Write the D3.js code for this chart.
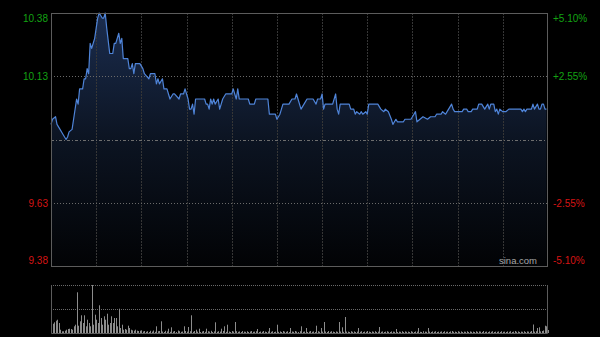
<!DOCTYPE html>
<html>
<head>
<meta charset="utf-8">
<script src="https://cdn.jsdelivr.net/npm/d3@7"></script>
<style>
  html, body { margin: 0; padding: 0; background: #000; }
  svg { display: block; }
  text { font-family: Arial, 'Liberation Sans', sans-serif; }
</style>
</head>
<body>
<svg id="chart"></svg>
<script>
// Intraday minute data (HK session: 09:30-12:00, 13:00-16:00 -> 330 trading minutes)
const prevClose = 9.88;
const priceTicks = [10.38, 10.13, 9.63, 9.38];
const pctTicks = [5.10, 2.55, -2.55, -5.10];

// minute index of each turning point of the price line, and its price
const minutes = [
  0, 1, 3, 4, 6, 8, 10, 11, 12, 14, 15, 17, 18, 19, 21, 22, 23, 24, 25, 26,
  27, 28, 29, 30, 31, 32, 34, 35, 36, 37, 39, 41, 42, 43, 45, 46, 47, 48, 51, 52,
  53, 54, 55, 56, 59, 61, 62, 65, 66, 69, 70, 71, 72, 74, 75, 77, 78, 79, 81, 82,
  85, 86, 88, 89, 91, 92, 93, 94, 95, 96, 102, 103, 104, 105, 106, 107, 108, 109, 111, 112,
  114, 116, 120, 121, 122, 123, 124, 125, 131, 132, 135, 136, 144, 145, 149, 150, 152, 154, 158, 160,
  162, 163, 164, 166, 168, 170, 174, 176, 177, 179, 180, 181, 182, 187, 189, 190, 191, 192, 198, 199,
  201, 202, 203, 205, 206, 207, 209, 210, 211, 217, 219, 221, 222, 224, 226, 227, 229, 230, 234, 235,
  239, 241, 242, 243, 245, 247, 250, 252, 255, 256, 259, 260, 262, 263, 266, 267, 268, 273, 274, 276,
  277, 279, 280, 283, 284, 286, 288, 290, 291, 292, 294, 295, 296, 297, 298, 300, 302, 304, 312, 313,
  314, 315, 316, 319, 320, 321, 323, 324, 325, 326, 327, 328, 329
];
const prices = [
  9.94, 9.96, 9.97, 9.94, 9.92, 9.90, 9.88, 9.89, 9.91, 9.92, 9.96, 10.04, 10.02, 10.08, 10.08, 10.12, 10.12, 10.16, 10.14, 10.26,
  10.24, 10.26, 10.28, 10.32, 10.36, 10.38, 10.36, 10.36, 10.38, 10.32, 10.22, 10.22, 10.26, 10.26, 10.30, 10.26, 10.28, 10.20, 10.20, 10.16,
  10.16, 10.18, 10.14, 10.18, 10.18, 10.16, 10.14, 10.12, 10.14, 10.14, 10.10, 10.12, 10.10, 10.12, 10.08, 10.08, 10.06, 10.04, 10.06, 10.06,
  10.04, 10.06, 10.06, 10.08, 10.04, 10.00, 10.00, 10.02, 9.98, 10.04, 10.04, 10.02, 10.02, 10.00, 10.04, 10.02, 10.04, 10.02, 10.04, 10.00,
  10.04, 10.06, 10.06, 10.08, 10.06, 10.04, 10.08, 10.04, 10.04, 10.02, 10.02, 10.04, 10.04, 9.98, 9.98, 9.96, 9.98, 10.02, 10.02, 10.04,
  10.04, 10.06, 10.04, 10.00, 10.02, 10.04, 10.04, 10.02, 10.04, 10.04, 10.06, 10.00, 10.02, 10.02, 10.06, 10.00, 9.98, 10.02, 10.02, 10.00,
  10.00, 9.98, 9.99, 9.98, 9.99, 9.98, 9.99, 9.98, 10.02, 10.02, 10.00, 9.99, 10.00, 9.99, 9.96, 9.94, 9.96, 9.95, 9.95, 9.96,
  9.96, 9.98, 9.99, 9.95, 9.96, 9.97, 9.96, 9.97, 9.97, 9.98, 9.98, 9.99, 9.98, 9.99, 10.02, 10.00, 9.99, 9.99, 10.00, 10.00,
  9.99, 9.99, 10.00, 10.00, 10.02, 10.02, 10.00, 10.02, 10.00, 10.02, 10.02, 9.99, 10.00, 9.98, 10.00, 9.99, 9.99, 10.00, 10.00, 9.99,
  10.00, 9.99, 10.00, 10.00, 10.02, 10.00, 10.02, 10.00, 10.00, 10.02, 10.02, 10.00, 10.00
];

// volume per minute, index = minute (0..330)
const volumes = [
  83, 93, 107, 123, 133, 100, 33, 17, 17, 23, 33, 40, 43, 40, 33, 67, 83, 407, 73, 117,
  177, 100, 177, 67, 133, 100, 67, 480, 83, 183, 133, 100, 277, 150, 83, 167, 133, 193, 83, 100,
  167, 100, 150, 150, 67, 243, 50, 83, 33, 40, 33, 73, 50, 33, 27, 23, 33, 23, 20, 23,
  27,
  15, 20, 12, 18, 10, 22, 14, 25, 12, 67,
  18, 20, 117, 15, 10, 22, 16, 43, 12, 57,
  14, 20, 10, 25, 18, 12, 15, 67, 20, 14,
  60, 18, 177, 12, 20, 33, 14, 43, 10, 15,
  20, 12, 43, 18, 14, 22, 10, 16, 107, 12,
  18, 14, 43, 20, 67, 12, 83, 15, 10, 20,
  14, 110, 18, 12, 16, 10, 20, 14, 12, 18,
  10, 15, 20, 12, 14, 18, 40, 10, 15, 12,
  20, 14, 10, 16, 50, 12, 18, 10, 14, 83,
  12, 16, 10, 20, 14, 12, 18, 10, 50, 15,
  12, 20, 14, 10, 18, 67, 12, 15, 50, 10,
  14, 20, 12, 16, 10, 73, 18, 12, 50, 14,
  110, 15, 10, 20, 12, 18, 14, 10, 16, 12,
  110, 15, 57, 12, 160, 14, 14, 10, 18, 12,
  16, 10, 14, 50, 12, 18, 10, 15, 12, 20,
  14, 10, 16, 12, 18, 10, 14, 60, 12, 16,
  10, 14, 18, 12, 10, 16, 14, 12, 40, 10,
  14, 12, 18, 10, 16, 12, 14, 10, 18, 12,
  10, 16, 14, 50, 12, 10, 18, 14, 12, 50,
  14, 10, 16, 12, 18, 10, 14, 12, 16, 10,
  18, 12, 14, 10, 16, 20, 12, 14, 10, 18,
  12, 16, 10, 14, 12, 18, 10, 16, 12, 14,
  10, 18, 12, 16, 14, 10, 20, 12, 14, 10,
  16, 12, 18, 10, 14, 12, 16, 10, 18, 12,
  14, 10, 16, 12, 18, 10, 14, 20, 12, 16,
  10, 14, 12, 18, 10, 16, 14, 12, 20, 85,
  14, 18, 50, 57, 16, 20, 25, 73, 67, 30
];

class IntradayChart {

    constructor(_config) {
        this.config = {
            parentElement: _config.parentElement,
            containerWidth: _config.containerWidth || 600,
            containerHeight: _config.containerHeight || 337,
            plot: {left: 51, right: 548, top: 13, bottom: 266},
            volPanel: {top: 285, bottom: 333},
            totalMinutes: 330
        };
        this.initVis();
    }

    initVis() {
        let vis = this;
        const p = vis.config.plot;

        vis.svg = d3.select(vis.config.parentElement)
            .attr('width', vis.config.containerWidth)
            .attr('height', vis.config.containerHeight)
            .style('background', '#000');

        vis.xScale = d3.scaleLinear()
            .domain([0, vis.config.totalMinutes])
            .range([p.left, p.right]);

        vis.yScale = d3.scaleLinear()
            .domain([9.38, 10.38])
            .range([p.bottom, p.top]);

        // percentage change relative to previous close, shares the same pixel range
        vis.pctScale = d3.scaleLinear()
            .domain([-5.10, 5.10])
            .range([p.bottom, p.top]);

        vis.volScale = d3.scaleLinear()
            .domain([0, d3.max(volumes)])
            .range([vis.config.volPanel.bottom, vis.config.volPanel.top]);

        // fill gradient under the price line
        const grad = vis.svg.append('defs').append('linearGradient')
            .attr('id', 'areaFill')
            .attr('gradientUnits', 'userSpaceOnUse')
            .attr('x1', 0).attr('x2', 0)
            .attr('y1', p.top).attr('y2', p.bottom);
        grad.append('stop').attr('offset', '0%').attr('stop-color', '#1b2d4f');
        grad.append('stop').attr('offset', '50%').attr('stop-color', '#0c1422');
        grad.append('stop').attr('offset', '100%').attr('stop-color', '#020305');

        vis.chart = vis.svg.append('g');
        vis.frameLayer = vis.svg.append('g');

        vis.renderVis();
    }

    renderVis() {
        let vis = this;
        const p = vis.config.plot;
        const vp = vis.config.volPanel;

        const data = minutes.map((m, i) => ({m: m, price: prices[i]}));

        // signed label, plain hyphen for negatives like the original
        const pctFormat = d => (d > 0 ? '+' : '-') + Math.abs(d).toFixed(2) + '%';

        // area + line
        const area = d3.area()
            .x(d => vis.xScale(d.m))
            .y0(p.bottom)
            .y1(d => vis.yScale(d.price));

        const line = d3.line()
            .x(d => vis.xScale(d.m))
            .y(d => vis.yScale(d.price));

        vis.chart.append('path')
            .datum(data)
            .attr('d', area)
            .attr('fill', 'url(#areaFill)');

        // vertical grid lines every 30 minutes
        const halfHours = d3.range(30, vis.config.totalMinutes, 30);
        vis.chart.selectAll('.vgrid')
            .data(halfHours)
            .join('line')
                .attr('class', 'vgrid')
                .attr('x1', d => Math.round(vis.xScale(d)) + 0.5)
                .attr('x2', d => Math.round(vis.xScale(d)) + 0.5)
                .attr('y1', p.top)
                .attr('y2', p.bottom)
                .attr('stroke', '#363636')
                .attr('stroke-dasharray', '2,1');

        // horizontal grid lines at the labelled inner levels
        vis.chart.selectAll('.hgrid')
            .data([10.13, 9.63])
            .join('line')
                .attr('class', 'hgrid')
                .attr('x1', p.left)
                .attr('x2', p.right)
                .attr('y1', d => Math.round(vis.yScale(d)) + 0.5)
                .attr('y2', d => Math.round(vis.yScale(d)) + 0.5)
                .attr('stroke', '#6a6a6a')
                .attr('stroke-dasharray', '1,2');

        // previous close reference line
        vis.chart.append('line')
            .attr('x1', p.left)
            .attr('x2', p.right)
            .attr('y1', Math.round(vis.yScale(prevClose)) + 0.5)
            .attr('y2', Math.round(vis.yScale(prevClose)) + 0.5)
            .attr('stroke', '#6e6e6e')
            .attr('stroke-dasharray', '3,2,1,2');

        vis.chart.append('path')
            .datum(data)
            .attr('d', line)
            .attr('fill', 'none')
            .attr('stroke', '#4f84d8')
            .attr('stroke-width', 1.2)
            .attr('stroke-linejoin', 'round');

        // main frame
        vis.frameLayer.append('rect')
            .attr('x', p.left + 0.5)
            .attr('y', p.top + 0.5)
            .attr('width', p.right - p.left - 1)
            .attr('height', p.bottom - p.top)
            .attr('fill', 'none')
            .attr('stroke', '#5c5c5c');

        // left price axis
        const leftAxis = vis.frameLayer.append('g')
            .attr('transform', `translate(${p.left},0)`)
            .call(d3.axisLeft(vis.yScale)
                .tickValues(priceTicks)
                .tickSize(0)
                .tickPadding(3)
                .tickFormat(d3.format('.2f')));
        leftAxis.select('.domain').remove();
        leftAxis.selectAll('text')
            .attr('font-size', 10)
            .attr('font-family', 'Arial, Liberation Sans, sans-serif')
            .attr('fill', d => d > prevClose ? '#13a313' : '#d61414')
            .attr('dy', d => d === 10.38 ? '0.85em' : (d === 9.38 ? '-0.25em' : '0.34em'));

        // right percentage axis
        const rightAxis = vis.frameLayer.append('g')
            .attr('transform', `translate(${p.right},0)`)
            .call(d3.axisRight(vis.pctScale)
                .tickValues(pctTicks)
                .tickSize(0)
                .tickPadding(5)
                .tickFormat(pctFormat));
        rightAxis.select('.domain').remove();
        rightAxis.selectAll('text')
            .attr('font-size', 10)
            .attr('font-family', 'Arial, Liberation Sans, sans-serif')
            .attr('fill', d => d > 0 ? '#13a313' : '#d61414')
            .attr('dy', d => d === 5.10 ? '0.85em' : (d === -5.10 ? '-0.25em' : '0.34em'));

        // watermark
        vis.frameLayer.append('text')
            .attr('x', 537)
            .attr('y', 264)
            .attr('text-anchor', 'end')
            .attr('font-size', 9.5)
            .attr('fill', '#a8a8a8')
            .text('sina.com');

        // volume panel
        const vol = vis.svg.append('g');
        [vp.top, (vp.top + vp.bottom) / 2].forEach(y => {
            vol.append('line')
                .attr('x1', p.left).attr('x2', p.right)
                .attr('y1', Math.round(y) + 0.5).attr('y2', Math.round(y) + 0.5)
                .attr('stroke', '#6a6a6a')
                .attr('stroke-dasharray', '1,1');
        });

        vol.selectAll('.vol-bar')
            .data(volumes)
            .join('rect')
                .attr('class', 'vol-bar')
                .attr('x', (d, i) => Math.round(vis.xScale(i)))
                .attr('y', d => vis.volScale(d))
                .attr('width', 1)
                .attr('height', d => vp.bottom - vis.volScale(d))
                .attr('fill', '#8c8c8c');

        vol.append('path')
            .attr('d', `M${p.left + 0.5},${vp.top}V${vp.bottom + 0.5}H${p.right - 0.5}V${vp.top}`)
            .attr('fill', 'none')
            .attr('stroke', '#5c5c5c');
    }
}

new IntradayChart({parentElement: '#chart'});
</script>
</body>
</html>
